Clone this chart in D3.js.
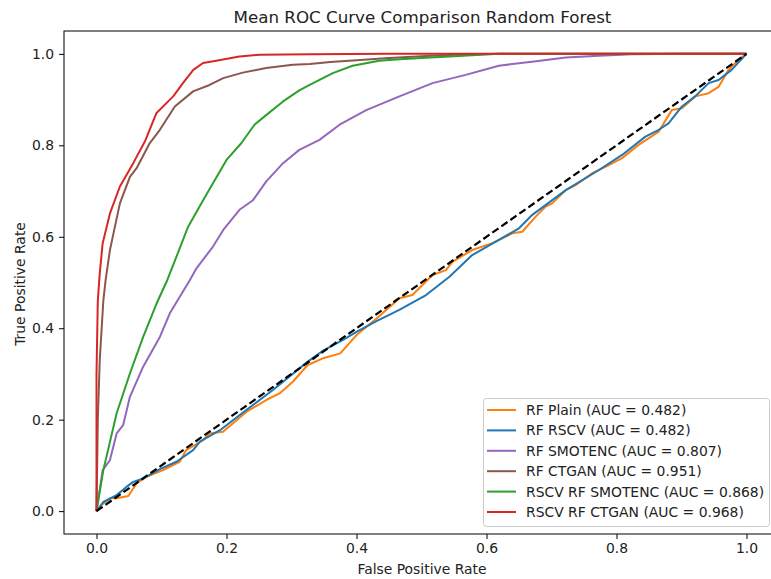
<!DOCTYPE html>
<html><head><meta charset="utf-8">
<script src="https://cdn.jsdelivr.net/npm/d3@7"></script>
<style>body{margin:0;background:#fff}svg{display:block;font-family:"DejaVu Sans",sans-serif}</style>
</head><body><svg id="c" width="771" height="579"></svg>
<script>
const title = "Mean ROC Curve Comparison Random Forest";
const xLabel = "False Positive Rate";
const yLabel = "True Positive Rate";
const ticks = [0, 0.2, 0.4, 0.6, 0.8, 1.0];
const seriesNames = ["RF Plain (AUC = 0.482)","RF RSCV (AUC = 0.482)","RF SMOTENC (AUC = 0.807)","RF CTGAN (AUC = 0.951)","RSCV RF SMOTENC (AUC = 0.868)","RSCV RF CTGAN (AUC = 0.968)"];
const seriesColors = ["#ff7f0e","#1f77b4","#9467bd","#8c564b","#2ca02c","#d62728"];

const rfPlain = [[0,0],[0.0105,0.017],[0.0207,0.028],[0.031,0.028],[0.049,0.033],[0.0617,0.061],[0.077,0.075],[0.1026,0.09],[0.128,0.108],[0.138,0.1335],[0.164,0.155],[0.1735,0.17],[0.1946,0.1735],[0.2305,0.217],[0.261,0.243],[0.2816,0.2575],[0.302,0.283],[0.325,0.3195],[0.35,0.335],[0.375,0.345],[0.4,0.385],[0.43,0.42],[0.466,0.4654],[0.486,0.4726],[0.517,0.5164],[0.5375,0.527],[0.548,0.5455],[0.578,0.571],[0.609,0.586],[0.64,0.6076],[0.655,0.611],[0.6757,0.644],[0.691,0.666],[0.701,0.673],[0.722,0.702],[0.737,0.713],[0.7626,0.739],[0.783,0.753],[0.8086,0.772],[0.834,0.801],[0.865,0.83],[0.885,0.877],[0.9007,0.881],[0.921,0.907],[0.9417,0.914],[0.957,0.928],[0.9724,0.965],[0.9877,0.987],[1,1]];
const rfRscv = [[0,0],[0.0105,0.02],[0.031,0.035],[0.046,0.053],[0.0565,0.064],[0.072,0.0715],[0.0975,0.092],[0.123,0.108],[0.1486,0.1335],[0.159,0.152],[0.19,0.177],[0.2305,0.221],[0.2714,0.265],[0.325,0.327],[0.35,0.352],[0.38,0.375],[0.4,0.392],[0.43,0.415],[0.4658,0.44],[0.507,0.4726],[0.543,0.5127],[0.578,0.56],[0.619,0.593],[0.65,0.6186],[0.6705,0.648],[0.722,0.702],[0.773,0.746],[0.8086,0.779],[0.8445,0.819],[0.865,0.834],[0.88,0.848],[0.9007,0.885],[0.921,0.907],[0.9417,0.936],[0.957,0.943],[0.977,0.965],[1,1]];
const rfSmotenc = [[0,0],[0.0095,0.0897],[0.0207,0.1116],[0.031,0.17],[0.041,0.188],[0.0514,0.25],[0.0718,0.316],[0.0975,0.381],[0.1128,0.4326],[0.1435,0.505],[0.1538,0.531],[0.179,0.578],[0.195,0.615],[0.22,0.659],[0.2407,0.68],[0.2612,0.721],[0.287,0.761],[0.312,0.79],[0.343,0.812],[0.374,0.845],[0.415,0.877],[0.466,0.907],[0.517,0.936],[0.568,0.954],[0.619,0.974],[0.67,0.983],[0.722,0.992],[0.773,0.996],[0.824,0.999],[0.9,1],[1,1]];
const rfCtgan = [[0,0],[0.002,0.2],[0.005,0.33],[0.0105,0.46],[0.014,0.505],[0.0207,0.571],[0.028,0.62],[0.036,0.673],[0.0514,0.731],[0.0617,0.75],[0.082,0.805],[0.0975,0.834],[0.1205,0.885],[0.1486,0.918],[0.174,0.932],[0.195,0.947],[0.225,0.959],[0.261,0.969],[0.302,0.976],[0.328,0.978],[0.36,0.982],[0.4,0.986],[0.45,0.991],[0.5,0.995],[0.55,0.998],[0.62,1],[1,1]];
const rscvRfSmotenc = [[0,0],[0.0105,0.0897],[0.031,0.214],[0.0514,0.301],[0.0718,0.381],[0.0924,0.454],[0.109,0.5055],[0.141,0.622],[0.164,0.68],[0.2,0.768],[0.223,0.805],[0.243,0.845],[0.261,0.866],[0.287,0.896],[0.312,0.92],[0.328,0.932],[0.3635,0.958],[0.394,0.974],[0.435,0.985],[0.466,0.988],[0.5,0.991],[0.55,0.995],[0.62,1],[1,1]];
const rscvRfCtgan = [[0,0],[0,0.3],[0.002,0.46],[0.005,0.52],[0.0095,0.586],[0.0207,0.651],[0.036,0.71],[0.0565,0.761],[0.075,0.81],[0.092,0.87],[0.118,0.907],[0.135,0.94],[0.149,0.965],[0.164,0.98],[0.184,0.985],[0.22,0.994],[0.251,0.998],[0.33,0.999],[0.45,1],[1,1]];
const seriesData = [rfPlain, rfRscv, rfSmotenc, rfCtgan, rscvRfSmotenc, rscvRfCtgan];

const svg = d3.select("#c");
const L = 64, R = 779, T = 31, B = 534;
const x = d3.scaleLinear().domain([-0.05, 1.05]).range([L, R]);
const y = d3.scaleLinear().domain([-0.05, 1.05]).range([B, T]);
const FS = 13.9;

const line = d3.line().x(d => x(d[0])).y(d => y(d[1]));
const g = svg.append("g");
seriesData.forEach((s, i) => {
  g.append("path").datum(s).attr("d", line).attr("fill", "none")
    .attr("stroke", seriesColors[i]).attr("stroke-width", 2).attr("stroke-linejoin", "round");
});
g.append("path").datum([[0,0],[1,1]]).attr("d", line).attr("fill","none")
  .attr("stroke","#000").attr("stroke-width",2.2).attr("stroke-dasharray","7.5,3.5");

// axes
const xa = svg.append("g").attr("transform", `translate(0,${B})`)
  .call(d3.axisBottom(x).tickValues(ticks).tickFormat(d3.format(".1f")).tickSize(5).tickSizeOuter(0));
const ya = svg.append("g").attr("transform", `translate(${L},0)`)
  .call(d3.axisLeft(y).tickValues(ticks).tickFormat(d3.format(".1f")).tickSize(5).tickSizeOuter(0));
[xa, ya].forEach(a => {
  a.select(".domain").remove();
  a.selectAll("line").attr("stroke", "#000").attr("stroke-width", 1);
  a.selectAll("text").attr("font-size", FS).attr("fill", "#222").attr("font-family", "DejaVu Sans");
});
xa.selectAll("text").attr("dy", "0.8em");
ya.selectAll("text").attr("dx", "-2");
svg.append("rect").attr("x", L).attr("y", T).attr("width", R - L).attr("height", B - T)
  .attr("fill", "none").attr("stroke", "#000").attr("stroke-width", 1);

svg.append("text").attr("x", 422.5).attr("y", 22.5).attr("text-anchor", "middle")
  .attr("font-size", 16.7).attr("fill", "#222").text(title);
svg.append("text").attr("x", 422).attr("y", 574).attr("text-anchor", "middle")
  .attr("font-size", FS).attr("fill", "#222").text(xLabel);
svg.append("text").attr("transform", "translate(24.5,284) rotate(-90)").attr("text-anchor", "middle")
  .attr("font-size", FS).attr("fill", "#222").text(yLabel);

// legend
const lg = svg.append("g");
lg.append("rect").attr("x", 483.5).attr("y", 398.5).attr("width", 286).attr("height", 128)
  .attr("rx", 3).attr("fill", "#fff").attr("fill-opacity", 0.8).attr("stroke", "#ccc");
seriesNames.forEach((n, i) => {
  const yy = 410 + i * 20.4;
  lg.append("line").attr("x1", 487).attr("x2", 516).attr("y1", yy).attr("y2", yy)
    .attr("stroke", seriesColors[i]).attr("stroke-width", 2);
  lg.append("text").attr("x", 526).attr("y", yy + 5).attr("font-size", FS).attr("fill", "#222").text(n);
});
</script></body></html>
